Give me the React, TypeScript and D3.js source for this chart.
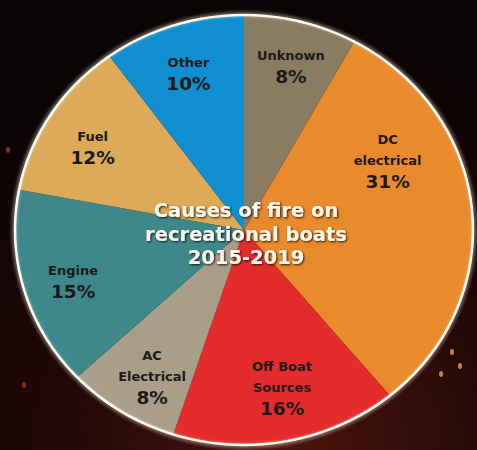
import React from "react";
import * as d3 from "d3";

const categories = ["Unknown", "DC electrical", "Off Boat Sources", "AC Electrical", "Engine", "Fuel", "Other"];
const labelLines = [["Unknown"], ["DC", "electrical"], ["Off Boat", "Sources"], ["AC", "Electrical"], ["Engine"], ["Fuel"], ["Other"]];
const values = [8, 31, 16, 8, 15, 12, 10];
const colors = ["#8a7c62", "#e98a2c", "#e42c2c", "#a89e8a", "#3e888b", "#ddaa5a", "#0f8fcf"];
const titleLines = ["Causes of fire on", "recreational boats", "2015-2019"];
// label nudges (px) relative to slice centroid at 70% radius
const nudges: [number, number][] = [[7, -1], [-16, -28], [8, 37], [-6, 47], [-17, 26], [-16, 15], [-6, 3]];

const W = 477, H = 450;
const cx = 244, cy = 230, rx = 229, ry = 215;

export default function App() {
  const pie = d3.pie<number>().sort(null).value((d) => d)(values);
  const arc = d3.arc<d3.PieArcDatum<number>>().innerRadius(0).outerRadius(ry);
  const sx = rx / ry;
  const labelArc = d3.arc<d3.PieArcDatum<number>>().innerRadius(ry * 0.7).outerRadius(ry * 0.7);
  return (
    <svg width={W} height={H} style={{ position: "absolute", left: 0, top: 0 }} fontFamily="'DejaVu Sans', sans-serif">
      <defs>
        <radialGradient id="bg" cx="0.6" cy="1" r="0.9">
          <stop offset="0" stopColor="#4a140c" />
          <stop offset="0.5" stopColor="#230806" />
          <stop offset="1" stopColor="#0b0404" />
        </radialGradient>
        <filter id="sh" x="-20%" y="-20%" width="140%" height="140%">
          <feDropShadow dx="1" dy="1" stdDeviation="1.2" floodColor="#000" floodOpacity="0.85" />
        </filter>
        <filter id="glow" x="-10%" y="-10%" width="120%" height="120%">
          <feGaussianBlur stdDeviation="1.5" />
        </filter>
      </defs>
      <rect width={W} height={H} fill="url(#bg)" />
      {[[452, 352], [441, 374], [460, 366], [24, 385], [8, 150]].map(([x, y], i) => (
        <ellipse key={i} cx={x} cy={y} rx={2} ry={3} fill={i < 3 ? "#f0a630" : "#b0302a"} opacity={0.8} />
      ))}
      <g transform={`translate(${cx},${cy}) scale(${sx},1)`}>
        {pie.map((p, i) => (
          <path key={categories[i]} d={arc(p) || ""} fill={colors[i]} />
        ))}
      </g>
      <ellipse cx={cx} cy={cy} rx={rx + 1} ry={ry + 1} fill="none" stroke="#fff6e8" strokeWidth={5} opacity={0.35} filter="url(#glow)" />
      <ellipse cx={cx} cy={cy} rx={rx} ry={ry} fill="none" stroke="#fffaf0" strokeWidth={2.5} />
      {pie.map((p, i) => {
        const [lx, ly] = labelArc.centroid(p);
        const x = cx + lx * sx + nudges[i][0];
        const y = cy + ly + nudges[i][1];
        const lines = labelLines[i];
        return (
          <g key={"l" + i} textAnchor="middle" fill="#1c1a18" fontWeight="bold">
            {lines.map((t, j) => (
              <text key={j} x={x} y={y - 23 - 21 * (lines.length - 1 - j)} fontSize={13}>{t}</text>
            ))}
            <text x={x} y={y} fontSize={18.5}>{values[i]}%</text>
          </g>
        );
      })}
      <g textAnchor="middle" fill="#fff8ec" fontWeight="bold" fontSize={19.5} filter="url(#sh)">
        {titleLines.map((t, i) => (
          <text key={i} x={cx + 2} y={217 + 23.5 * i}>{t}</text>
        ))}
      </g>
    </svg>
  );
}
